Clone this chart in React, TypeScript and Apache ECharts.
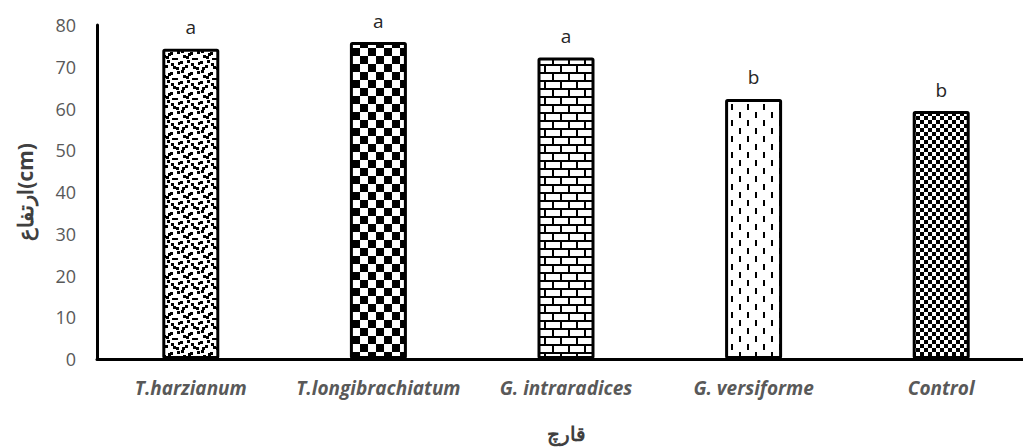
import React, { useEffect, useRef } from "react";
import * as echarts from "echarts";

const categories = ["T.harzianum", "T.longibrachiatum", "G. intraradices", "G. versiforme", "Control"];
const heights = [74.3, 75.9, 72.2, 62.3, 59.4];
const groupLetters = ["a", "a", "a", "b", "b"];
const yTicks = { min: 0, max: 80, interval: 10 };
const yTitle = "ارتفاع(cm)";
const xTitle = "قارچ";

function makeTile(size: number, draw: (ctx: CanvasRenderingContext2D) => void): HTMLCanvasElement {
  const c = document.createElement("canvas");
  c.width = size;
  c.height = size;
  const ctx = c.getContext("2d")!;
  ctx.fillStyle = "#ffffff";
  ctx.fillRect(0, 0, size, size);
  ctx.fillStyle = "#000000";
  draw(ctx);
  return c;
}

function confetti() {
  const jitter = [
    [0, 1], [2, 0], [1, 3], [3, 2],
    [2, 2], [0, 0], [3, 1], [1, 2],
    [1, 0], [3, 3], [0, 2], [2, 1],
    [3, 0], [1, 1], [2, 3], [0, 3],
  ];
  return makeTile(20, (ctx) => {
    let k = 0;
    for (let j = 0; j < 4; j++) {
      for (let i = 0; i < 4; i++) {
        const [dx, dy] = jitter[k++];
        ctx.fillRect(i * 5 + dx, j * 5 + dy, 3, 3);
      }
    }
  });
}

function checker(cell: number) {
  return makeTile(cell * 2, (ctx) => {
    ctx.fillRect(0, 0, cell, cell);
    ctx.fillRect(cell, cell, cell, cell);
  });
}

function brick() {
  return makeTile(16, (ctx) => {
    ctx.fillRect(0, 0, 16, 2);
    ctx.fillRect(0, 8, 16, 2);
    ctx.fillRect(0, 2, 2, 6);
    ctx.fillRect(8, 10, 2, 6);
  });
}

function dashedVertical() {
  return makeTile(16, (ctx) => {
    ctx.fillRect(3, 0, 2, 6);
    ctx.fillRect(11, 8, 2, 6);
  });
}

export default function App() {
  const ref = useRef<HTMLDivElement>(null);
  useEffect(() => {
    if (!ref.current) return;
    const chart = echarts.init(ref.current, undefined, { renderer: "svg" });
    const tiles = [confetti(), checker(8), brick(), dashedVertical(), checker(4)];
    const data = heights.map((v, i) => ({
      value: v,
      itemStyle: {
        color: { image: tiles[i], repeat: "repeat" } as any,
      },
    }));
    chart.setOption({
      animation: false,
      backgroundColor: "#ffffff",
      grid: { left: 97, right: -12, top: 25, bottom: 88, containLabel: false, outerBoundsMode: "none" },
      xAxis: {
        type: "category",
        data: categories,
        axisLine: { show: true, lineStyle: { color: "#000000", width: 3 } },
        axisTick: { show: false },
        axisLabel: {
          interval: 0,
          hideOverlap: false,
          color: "#595959",
          fontFamily: "Open Sans",
          fontStyle: "italic",
          fontWeight: "bold",
          fontSize: 19,
          margin: 19,
        },
        name: xTitle,
        nameLocation: "middle",
        nameGap: 64,
        nameTextStyle: {
          color: "#404040",
          fontFamily: "Noto Sans",
          fontSize: 20,
          fontWeight: "bold",
        },
      },
      yAxis: {
        type: "value",
        min: yTicks.min,
        max: yTicks.max,
        interval: yTicks.interval,
        splitLine: { show: false },
        axisLine: { show: true, lineStyle: { color: "#000000", width: 3 } },
        axisTick: { show: false },
        axisLabel: {
          color: "#595959",
          fontFamily: "Open Sans",
          fontSize: 18,
          margin: 21,
        },
        name: yTitle,
        nameLocation: "middle",
        nameGap: 62,
        nameRotate: 90,
        nameTextStyle: {
          color: "#404040",
          fontFamily: "Noto Sans",
          fontSize: 21,
          fontWeight: "bold",
        },
      },
      series: [
        {
          type: "bar",
          data,
          barWidth: 57,
          itemStyle: { borderColor: "#000000", borderWidth: 3, borderRadius: 1 },
          label: {
            show: true,
            position: "top",
            distance: 12,
            formatter: (p: any) => groupLetters[p.dataIndex],
            color: "#262626",
            fontFamily: "Open Sans",
            fontSize: 19,
          },
        },
      ],
    });
    return () => chart.dispose();
  }, []);
  return (
    <div
      ref={ref}
      style={{ position: "fixed", left: 0, top: 0, width: 1023, height: 447, background: "#fff" }}
    />
  );
}
